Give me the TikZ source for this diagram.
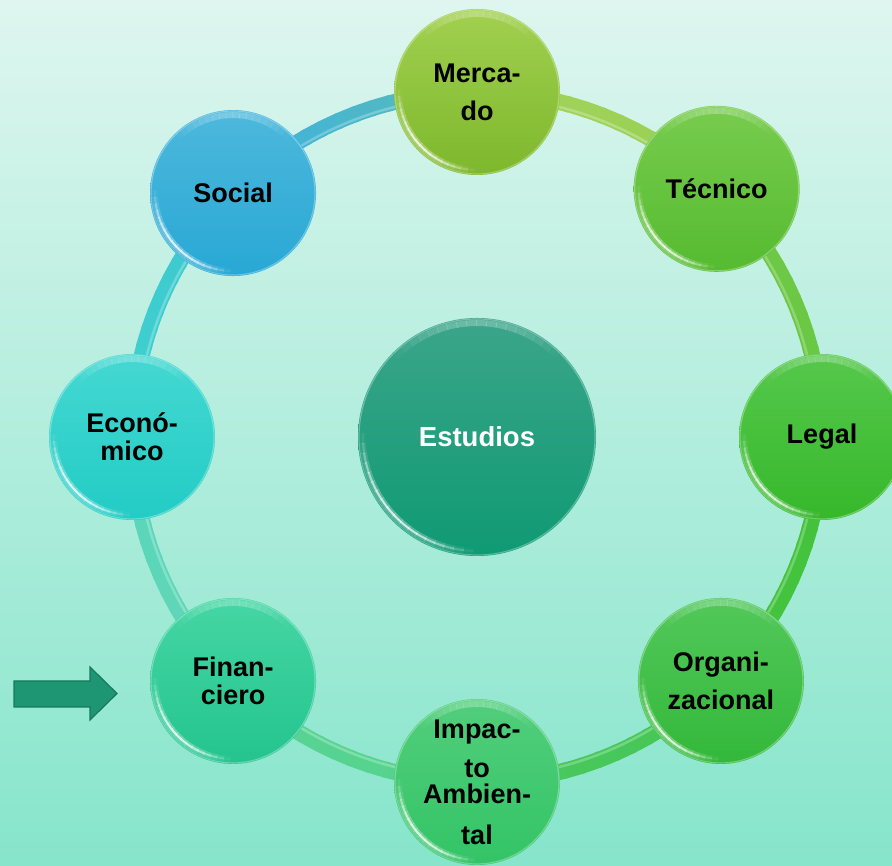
\documentclass[tikz,border=0pt]{standalone}
\usepackage{fontspec}
\setmainfont{Liberation Sans}
\usetikzlibrary{calc}

% background
\definecolor{bgtop}{HTML}{DEF6EF}
\definecolor{bgbot}{HTML}{86E5CB}
% bubble fills (top / bottom)
\definecolor{merT}{HTML}{A2D050}\definecolor{merB}{HTML}{7DB82C}
\definecolor{tecT}{HTML}{78CC4E}\definecolor{tecB}{HTML}{55BB30}
\definecolor{legT}{HTML}{56C84C}\definecolor{legB}{HTML}{36B82B}
\definecolor{orgT}{HTML}{52C85A}\definecolor{orgB}{HTML}{33B83A}
\definecolor{impT}{HTML}{52CE7C}\definecolor{impB}{HTML}{33C466}
\definecolor{finT}{HTML}{45D6A4}\definecolor{finB}{HTML}{24C48E}
\definecolor{ecoT}{HTML}{45D8D2}\definecolor{ecoB}{HTML}{22CCC5}
\definecolor{socT}{HTML}{4DB8DC}\definecolor{socB}{HTML}{28A8D5}
\definecolor{estT}{HTML}{3BA58A}\definecolor{estB}{HTML}{0F9A74}
% ring segment colours
\definecolor{rMer}{HTML}{A4D35A}
\definecolor{rTec}{HTML}{72C946}
\definecolor{rLeg}{HTML}{44C23A}
\definecolor{rOrg}{HTML}{45C652}
\definecolor{rImp}{HTML}{55D28A}
\definecolor{rFin}{HTML}{62D7B5}
\definecolor{rEco}{HTML}{3FD1CD}
\definecolor{rSoc}{HTML}{3CB2DE}
% arrow
\definecolor{arrFill}{HTML}{1E9573}
\definecolor{arrLine}{HTML}{167A5A}

\newcommand{\bubbletext}{\fontsize{27}{38}\selectfont\bfseries}
\newcommand{\bubbletight}{\fontsize{27}{28}\selectfont\bfseries}
\newcommand{\centertext}{\fontsize{27.5}{30}\selectfont\bfseries}

% glossy rim on a round node: #1 node name, #2 radius
\newcommand{\glossrim}[2]{%
  \draw[white, opacity=.3, line width=1.2pt] (#1.center) circle[radius=#2-1];
  \foreach \t in {0,...,17} {
    \pgfmathsetmacro\sa{45+5*\t}
    \pgfmathsetmacro\op{0.25*sin((\t+0.5)*10)}
    \draw[white, opacity=\op, line width=6pt] (#1.center) ++(\sa:#2-5)
      arc[start angle=\sa, end angle=\sa+5.3, radius=#2-5];
  }
  \foreach \t in {0,...,17} {
    \pgfmathsetmacro\sa{178+5*\t}
    \pgfmathsetmacro\op{0.75*sin((\t+0.5)*10)}
    \pgfmathsetmacro\ow{0.3*sin((\t+0.5)*10)}
    \draw[white, opacity=\ow, line width=6pt] (#1.center) ++(\sa:#2-5)
      arc[start angle=\sa, end angle=\sa+5.3, radius=#2-5];
    \draw[white, opacity=\op, line width=2pt] (#1.center) ++(\sa:#2-5)
      arc[start angle=\sa, end angle=\sa+5.3, radius=#2-5];
  }
}

\begin{document}
\begin{tikzpicture}[x=1pt, y=1pt,
  bubble/.style={circle, minimum size=166pt, inner sep=0pt, align=center,
    text=black, font=\bubbletext},
  fillpair/.style 2 args={top color=#1, bottom color=#2},
  center bubble/.style={circle, minimum size=238pt, inner sep=0pt,
    text=white, font=\centertext, top color=estT, bottom color=estB},
  pointer/.style={fill=arrFill, draw=arrLine, line width=1.2pt, line join=miter}
]
\useasboundingbox (0,0) rectangle (892,866);
\shade[top color=bgtop, bottom color=bgbot] (0,0) rectangle (892,866);

\coordinate (ring) at (477,429);

% ring: each segment runs clockwise from its bubble and blends into the next
\foreach \a/\ca/\cb in {90/rMer/rTec, 45/rTec/rLeg, 0/rLeg/rOrg, -45/rOrg/rImp,
                        -90/rImp/rFin, -135/rFin/rEco, 180/rEco/rSoc, 135/rSoc/rMer} {
  \foreach \k in {0,...,14} {
    \pgfmathsetmacro\sa{\a-3*\k}
    \pgfmathsetmacro\sb{\a-3*\k-3.6}
    \pgfmathtruncatemacro\p{100-2*\k}
    \colorlet{segc}{\ca!\p!\cb}
    \draw[segc, line width=16pt] (ring) ++(\sa:345)
      arc[start angle=\sa, end angle=\sb, radius=345];
  }
}
\draw[white, opacity=.25, line width=2.5pt] (ring) circle[radius=340];

% bubbles
\node[bubble, fillpair={merT}{merB}] (mercado) at ($(ring)+(90:345)$) {Merca-\\do};
\node[bubble, fillpair={tecT}{tecB}] (tecnico) at ($(ring)+(46:345)$) {Técnico};
\node[bubble, fillpair={legT}{legB}] (legal) at ($(ring)+(0:345)$) {Legal};
\node[bubble, fillpair={orgT}{orgB}] (organizacional) at ($(ring)+(-45:345)$) {Organi-\\zacional};
\node[bubble, fillpair={impT}{impB}] (impacto) at ($(ring)+(-90:345)$)
  {Impac-\\[1pt]to\\[-12pt]Ambien-\\[3pt]tal};
\node[bubble, fillpair={finT}{finB}, font=\bubbletight] (financiero) at ($(ring)+(-135:345)$) {Finan-\\ciero};
\node[bubble, fillpair={ecoT}{ecoB}, font=\bubbletight] (economico) at ($(ring)+(180:345)$) {Econó-\\mico};
\node[bubble, fillpair={socT}{socB}] (social) at ($(ring)+(135:345)$) {Social};

\node[center bubble] (estudios) at (ring) {Estudios};

\foreach \n in {mercado, tecnico, legal, organizacional, impacto, financiero, economico, social} {
  \glossrim{\n}{83}
}
\glossrim{estudios}{119}

% pointer towards Financiero
\draw[pointer] (14,159) -- (90,159) -- (90,146) -- (117,172.5)
  -- (90,199) -- (90,185) -- (14,185) -- cycle;
\end{tikzpicture}
\end{document}
